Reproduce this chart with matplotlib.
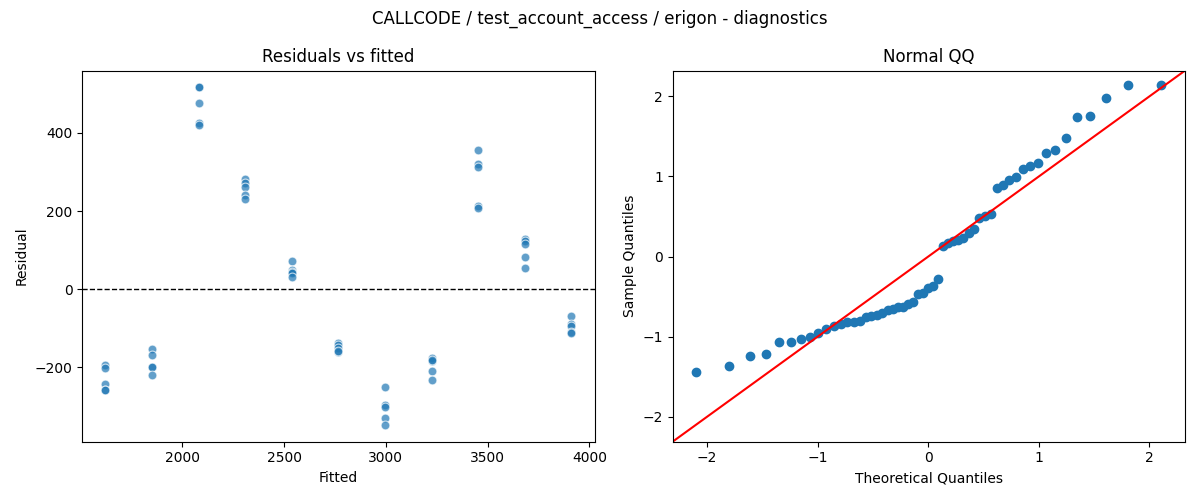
import matplotlib
matplotlib.use("Agg")
import matplotlib.pyplot as plt
import numpy as np
from statistics import NormalDist

# fitted value for each group (5 observations per group)
group_fitted = [1623, 1852, 2081, 2310, 2538, 2767, 2996, 3225, 3453, 3682, 3911]
group_resid = [
    [-193, -202, -242, -258, -258],
    [-153, -169, -198, -198, -220],
    [516, 516, 477, 424, 419],
    [282, 271, 262, 240, 230],
    [71, 49, 45, 41, 32],
    [-138, -143, -151, -160, -158],
    [-250, -295, -301, -329, -347],
    [-177, -183, -209, -232, -180],
    [355, 319, 312, 214, 207],
    [128, 123, 115, 82, 54],
    [-69, -89, -95, -110, -112],
]

fitted = np.repeat(group_fitted, [len(g) for g in group_resid])
resid = np.concatenate([np.array(g, dtype=float) for g in group_resid])

fig, (ax1, ax2) = plt.subplots(1, 2, figsize=(12, 5), dpi=100)

# Residuals vs fitted
ax1.scatter(fitted, resid, s=40, alpha=0.7, edgecolor="white", linewidth=0.8)
ax1.axhline(0, color="black", linestyle="--", linewidth=1)
ax1.set_title("Residuals vs fitted")
ax1.set_xlabel("Fitted")
ax1.set_ylabel("Residual")

# Normal QQ, same recipe as statsmodels qqplot(fit=True, line="45")
n = len(resid)
theo = np.array([NormalDist().inv_cdf(i / (n + 1)) for i in range(1, n + 1)])
sample = np.sort((resid - resid.mean()) / resid.std())
ax2.plot(theo, sample, "o", color="#1f77b4")
xl, yl = ax2.get_xlim(), ax2.get_ylim()
lo, hi = min(xl[0], yl[0]), max(xl[1], yl[1])
ax2.plot([lo, hi], [lo, hi], color="red")
ax2.set_xlim(lo, hi)
ax2.set_ylim(lo, hi)
ax2.set_title("Normal QQ")
ax2.set_xlabel("Theoretical Quantiles")
ax2.set_ylabel("Sample Quantiles")

fig.suptitle("CALLCODE / test_account_access / erigon - diagnostics")
plt.tight_layout()
plt.savefig("out.png")
